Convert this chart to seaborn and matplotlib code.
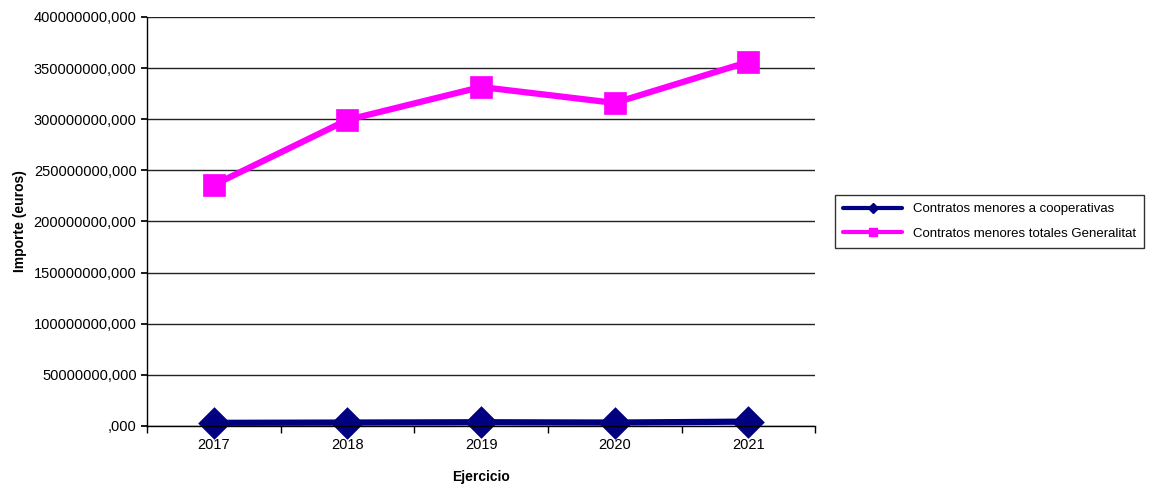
import numpy as np
import pandas as pd
import seaborn as sns
import matplotlib.pyplot as plt
from matplotlib.ticker import FuncFormatter, FixedLocator
from matplotlib.lines import Line2D

years = ["2017", "2018", "2019", "2020", "2021"]
cooperativas = [3.0e6, 3.3e6, 3.6e6, 3.3e6, 4.2e6]
totales = [235.7e6, 299.3e6, 331.5e6, 315.9e6, 356.0e6]
series_names = ["Contratos menores a cooperativas", "Contratos menores totales Generalitat"]

df = pd.DataFrame({
    "Ejercicio": years * 2,
    "Importe": cooperativas + totales,
    "serie": [series_names[0]] * len(years) + [series_names[1]] * len(years),
})

sns.set_theme(style="white")
plt.rcParams["font.family"] = ["Liberation Sans", "DejaVu Sans"]
plt.rcParams["text.color"] = "black"
plt.rcParams["axes.labelcolor"] = "black"

fig, ax = plt.subplots(figsize=(11.53, 4.84), dpi=100)
fig.subplots_adjust(left=0.1275, right=0.707, top=0.965, bottom=0.12)

sns.pointplot(
    data=df, x="Ejercicio", y="Importe", hue="serie", order=years,
    hue_order=series_names, palette=["#000080", "#FF00FF"],
    markers=["D", "s"], linestyles=["-", "-"], errorbar=None,
    markersize=13, linewidth=4.5, ax=ax, legend=False,
)
for ln in ax.lines:
    ln.set_clip_on(False)

ax.set_ylim(0, 400e6)
ax.set_xlim(-0.5, 4.5)
ax.set_yticks(np.arange(0, 400e6 + 1, 50e6))
ax.yaxis.set_major_formatter(FuncFormatter(lambda v, p: f"{int(round(v))},000" if v else ",000"))
ax.yaxis.grid(True, color="#222222", linewidth=1)
ax.set_axisbelow(True)

ax.tick_params(axis="x", which="major", length=0, pad=9, labelsize=10.5, labelcolor="black")
ax.xaxis.set_minor_locator(FixedLocator(np.arange(-0.5, 5, 1)))
ax.tick_params(axis="x", which="minor", length=5, color="black", direction="out", bottom=True)
ax.tick_params(axis="y", length=4, color="black", direction="out", left=True,
               labelsize=10.5, labelcolor="black")

for s in ["top", "right"]:
    ax.spines[s].set_visible(False)
for s in ["left", "bottom"]:
    ax.spines[s].set_color("black")
    ax.spines[s].set_linewidth(1)

ax.set_xlabel("Ejercicio", fontweight="bold", fontsize=10, labelpad=13, color="black")
ax.set_ylabel("Importe (euros)", fontweight="bold", fontsize=10, labelpad=5, color="black")

handles = [
    Line2D([], [], color="#000080", marker="D", markersize=5, linewidth=3),
    Line2D([], [], color="#FF00FF", marker="s", markersize=6, linewidth=3),
]
leg = ax.legend(handles, series_names, loc="center left", bbox_to_anchor=(1.02, 0.5),
                frameon=True, fancybox=False, edgecolor="black", fontsize=9.5,
                handlelength=4.5, borderpad=0.6, labelspacing=0.9)
leg.get_frame().set_linewidth(1)
for t in leg.get_texts():
    t.set_color("black")

fig.savefig("out.png", dpi=100)
